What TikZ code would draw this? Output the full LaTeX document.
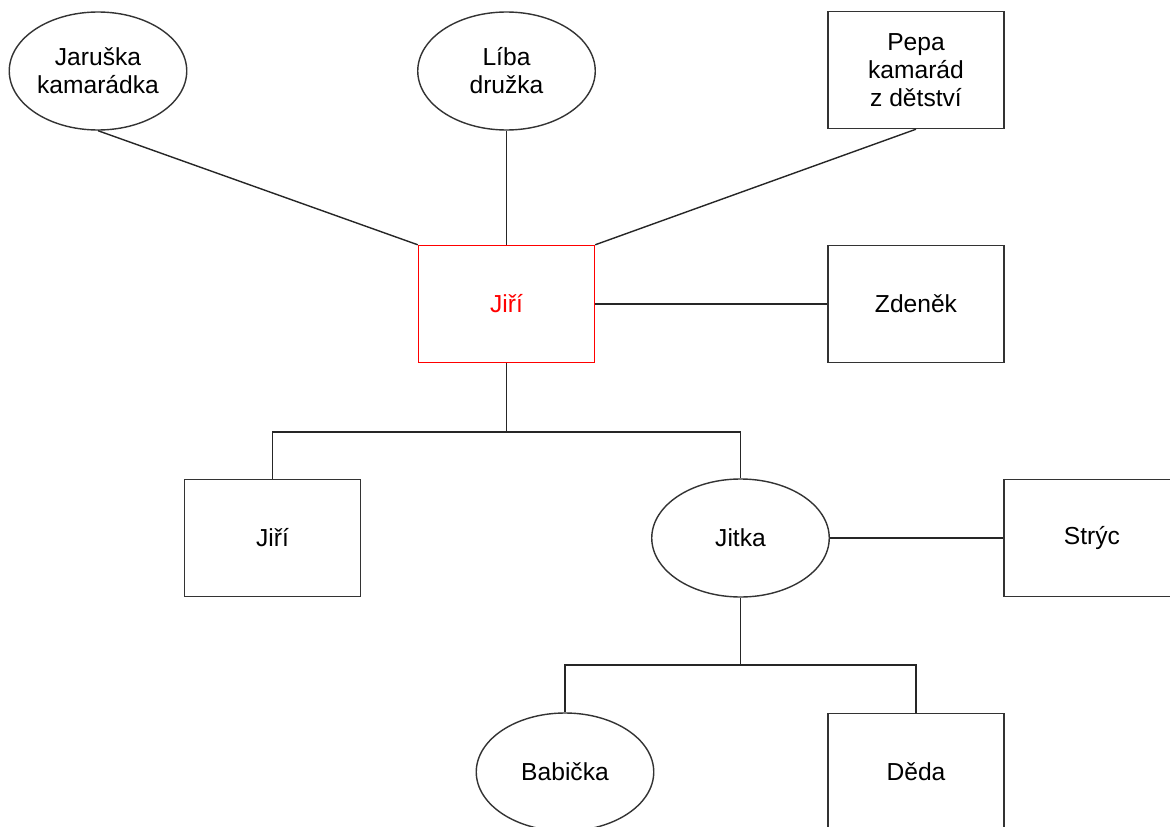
\documentclass[tikz,border=0pt]{standalone}
\usepackage{fontspec}
\setmainfont{Liberation Sans}
\usepackage{tikz}
\usetikzlibrary{shapes,positioning,calc}

\begin{document}
\begin{tikzpicture}[
    person/.style={
        rectangle,
        draw=black!80,
        line width=0.8pt,
        fill=white,
        minimum width=3.52cm,
        minimum height=2.34cm,
        inner sep=0pt,
        align=center,
        font=\fontsize{14}{16}\selectfont
    },
    woman/.style={
        ellipse,
        draw=black!80,
        line width=0.8pt,
        fill=white,
        minimum width=3.55cm,
        minimum height=2.36cm,
        inner sep=0pt,
        align=center,
        font=\fontsize{14}{16}\selectfont
    },
    me/.style={
        person,
        draw=red,
        text=red
    },
    link/.style={
        draw=black!85,
        line width=0.8pt
    }
]
\useasboundingbox (0,0) rectangle (23.4,-16.54);

% --- Friends (top row) ---
\node[woman] (jaruska) at (1.96,-1.42) {Jaruška\\kamarádka};
\node[woman] (liba) at (10.13,-1.42) {Líba\\družka};
\node[person] (pepa) at (18.32,-1.4) {Pepa\\kamarád\\z dětství};

% --- Centre ---
\node[me] (jiri) at (10.13,-6.08) {Jiří};
\node[person] (zdenek) at (18.32,-6.08) {Zdeněk};

% --- Parents ---
\node[person] (otec) at (5.45,-10.76) {Jiří};
\node[woman] (jitka) at (14.81,-10.76) {Jitka};
\node[person] (stryc) at (21.84,-10.76) {Strýc};

% --- Grandparents ---
\node[woman] (babicka) at (11.3,-15.44) {Babička};
\node[person] (deda) at (18.32,-15.44) {Děda};

% --- Connecting lines ---
\draw[link] (jaruska.south) -- (jiri.north west);
\draw[link] (liba.south) -- (jiri.north);
\draw[link] (pepa.south) -- (jiri.north east);
\draw[link] (jiri.east) -- (zdenek.west);

\coordinate (fork1) at (10.13,-8.64);
\draw[link] (jiri.south) -- (fork1) -| (otec.north);
\draw[link] (fork1) -| (jitka.north);

\draw[link] (jitka.east) -- (stryc.west);

\coordinate (fork2) at (14.81,-13.3);
\draw[link] (jitka.south) -- (fork2) -| (babicka.north);
\draw[link] (fork2) -| (deda.north);

\end{tikzpicture}
\end{document}
